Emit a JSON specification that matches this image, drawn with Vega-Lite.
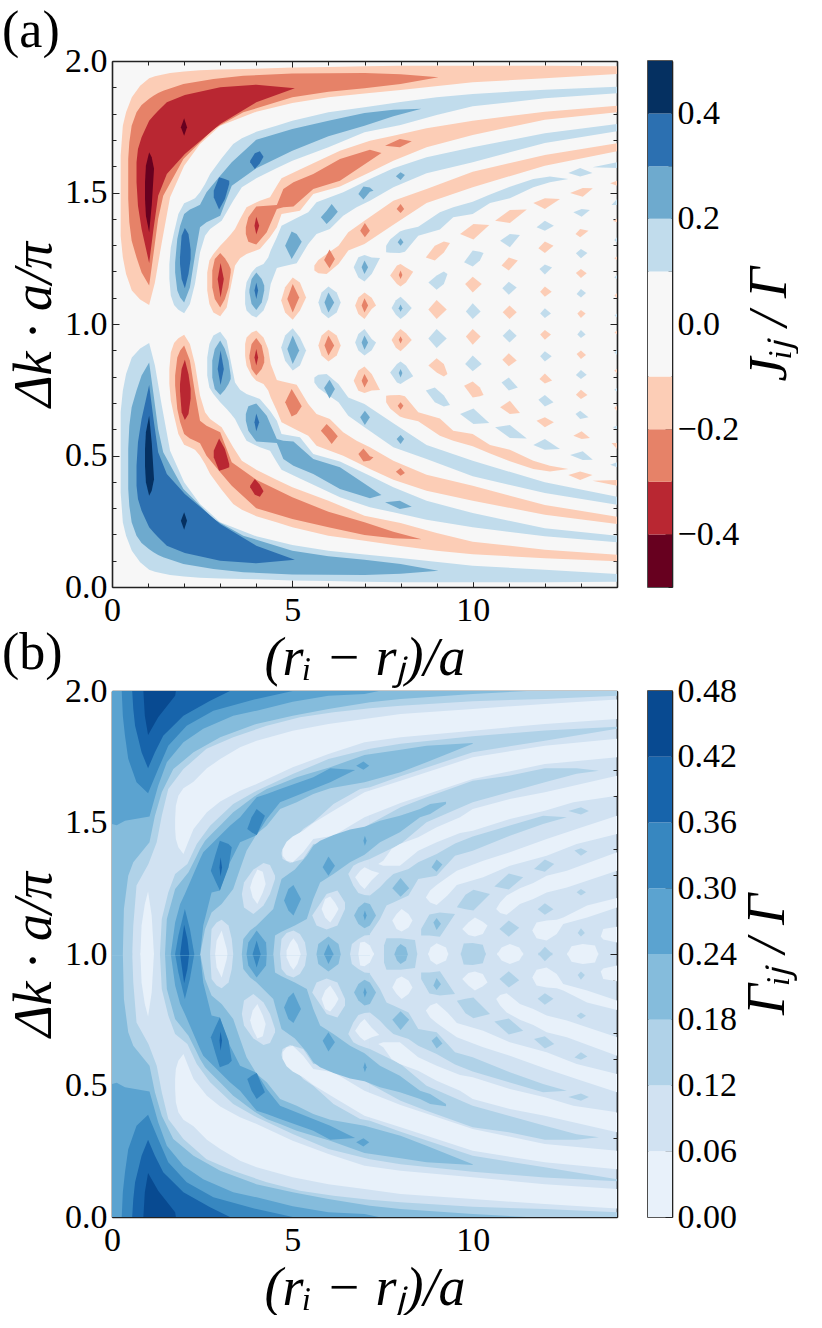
{"$schema":"https://vega.github.io/schema/vega-lite/v6.json","background":"white","padding":{"left":2,"top":5,"right":0,"bottom":0},"bounds":"flush","columns":2,"spacing":{"row":104,"column":31},"resolve":{"scale":{"color":"independent"}},"config":{"view":{"stroke":null},"font":"Liberation Serif","axis":{"labelFont":"Liberation Serif","titleFont":"Liberation Serif","labelFontSize":34,"titleFontWeight":"normal","titleFontSize":54,"titleColor":"#000","labelColor":"#000","domainColor":"#222","domainWidth":1.6,"tickColor":"#222","tickWidth":1,"grid":false,"labelOverlap":false,"labelBound":false,"labelFlush":false,"zindex":1}},
"datasets":{
"ca":[{"lo":-0.5,"hi":-0.4,"lv":"n4"},{"lo":-0.4,"hi":-0.3,"lv":"n3"},{"lo":-0.3,"hi":-0.2,"lv":"n2"},{"lo":-0.2,"hi":-0.1,"lv":"n1"},{"lo":-0.1,"hi":0.1,"lv":"z"},{"lo":0.1,"hi":0.2,"lv":"p1"},{"lo":0.2,"hi":0.3,"lv":"p2"},{"lo":0.3,"hi":0.4,"lv":"p3"},{"lo":0.4,"hi":0.5,"lv":"p4"}],
"cb":[{"lo":0,"hi":0.06,"lv":"L0"},{"lo":0.06,"hi":0.12,"lv":"L1"},{"lo":0.12,"hi":0.18,"lv":"L2"},{"lo":0.18,"hi":0.24,"lv":"L3"},{"lo":0.24,"hi":0.3,"lv":"L4"},{"lo":0.3,"hi":0.36,"lv":"L5"},{"lo":0.36,"hi":0.42,"lv":"L6"},{"lo":0.42,"hi":0.48,"lv":"L7"}],
"a":[
{"id":1,"lv":"p1","r":0.24,"lo":0.36,"hi":0.664},{"id":1,"lv":"p1","r":0.3,"lo":0.246,"hi":0.746},{"id":1,"lv":"p1","r":0.39,"lo":0.195,"hi":0.81},{"id":1,"lv":"p1","r":0.55,"lo":0.138,"hi":0.873},{"id":1,"lv":"p1","r":0.78,"lo":0.094,"hi":0.907},{"id":1,"lv":"p1","r":1.03,"lo":0.066,"hi":0.928},{"id":1,"lv":"p1","r":1.19,"lo":0.058,"hi":0.842},{"id":1,"lv":"p1","r":1.38,"lo":0.052,"hi":0.69},{"id":1,"lv":"p1","r":1.61,"lo":0.046,"hi":0.518},{"id":1,"lv":"p1","r":2,"lo":0.04,"hi":0.398},{"id":1,"lv":"p1","r":2.44,"lo":0.035,"hi":0.316},{"id":1,"lv":"p1","r":3,"lo":0.032,"hi":0.246},{"id":1,"lv":"p1","r":4,"lo":0.029,"hi":0.193},{"id":1,"lv":"p1","r":5,"lo":0.025,"hi":0.16},{"id":1,"lv":"p1","r":6,"lo":0.023,"hi":0.138},{"id":1,"lv":"p1","r":7,"lo":0.02,"hi":0.124},{"id":1,"lv":"p1","r":8,"lo":0.018,"hi":0.11},{"id":1,"lv":"p1","r":10,"lo":0.018,"hi":0.081},{"id":1,"lv":"p1","r":12,"lo":0.018,"hi":0.066},{"id":1,"lv":"p1","r":14,"lo":0.02,"hi":0.049},
{"id":2,"lv":"p2","r":0.45,"lo":0.373,"hi":0.525},{"id":2,"lv":"p2","r":0.48,"lo":0.309,"hi":0.613},{"id":2,"lv":"p2","r":0.545,"lo":0.246,"hi":0.683},{"id":2,"lv":"p2","r":0.68,"lo":0.195,"hi":0.747},{"id":2,"lv":"p2","r":0.82,"lo":0.167,"hi":0.804},{"id":2,"lv":"p2","r":1.03,"lo":0.144,"hi":0.854},{"id":2,"lv":"p2","r":1.15,"lo":0.132,"hi":0.734},{"id":2,"lv":"p2","r":1.28,"lo":0.122,"hi":0.6},{"id":2,"lv":"p2","r":1.42,"lo":0.113,"hi":0.512},{"id":2,"lv":"p2","r":1.98,"lo":0.087,"hi":0.373},{"id":2,"lv":"p2","r":2.81,"lo":0.068,"hi":0.259},{"id":2,"lv":"p2","r":3.64,"lo":0.056,"hi":0.195},{"id":2,"lv":"p2","r":5,"lo":0.048,"hi":0.138},{"id":2,"lv":"p2","r":6,"lo":0.047,"hi":0.117},{"id":2,"lv":"p2","r":7,"lo":0.046,"hi":0.104},{"id":2,"lv":"p2","r":8,"lo":0.05,"hi":0.087},{"id":2,"lv":"p2","r":9.05,"lo":0.062,"hi":0.062},
{"id":3,"lv":"p3","r":0.68,"lo":0.385,"hi":0.461},{"id":3,"lv":"p3","r":0.72,"lo":0.335,"hi":0.55},{"id":3,"lv":"p3","r":0.82,"lo":0.29,"hi":0.639},{"id":3,"lv":"p3","r":1.03,"lo":0.227,"hi":0.768},{"id":3,"lv":"p3","r":1.15,"lo":0.208,"hi":0.639},{"id":3,"lv":"p3","r":1.28,"lo":0.189,"hi":0.512},{"id":3,"lv":"p3","r":1.52,"lo":0.157,"hi":0.43},{"id":3,"lv":"p3","r":2.02,"lo":0.129,"hi":0.354},{"id":3,"lv":"p3","r":3,"lo":0.1,"hi":0.24},{"id":3,"lv":"p3","r":4,"lo":0.09,"hi":0.157},{"id":3,"lv":"p3","r":5.07,"lo":0.104,"hi":0.104},
{"id":4,"lv":"p4","r":0.915,"lo":0.461,"hi":0.525},{"id":4,"lv":"p4","r":0.94,"lo":0.398,"hi":0.588},{"id":4,"lv":"p4","r":1.03,"lo":0.347,"hi":0.651},{"id":4,"lv":"p4","r":1.1,"lo":0.366,"hi":0.55},{"id":4,"lv":"p4","r":1.165,"lo":0.41,"hi":0.41},
{"id":5,"lv":"p4","r":1.91,"lo":0.252,"hi":0.252},{"id":5,"lv":"p4","r":2,"lo":0.218,"hi":0.284},{"id":5,"lv":"p4","r":2.08,"lo":0.252,"hi":0.252},
{"id":6,"lv":"n1","r":1.59,"lo":0.772,"hi":0.829},{"id":6,"lv":"n1","r":1.63,"lo":0.709,"hi":0.892},{"id":6,"lv":"n1","r":1.72,"lo":0.651,"hi":0.928},{"id":6,"lv":"n1","r":1.84,"lo":0.582,"hi":0.946},{"id":6,"lv":"n1","r":2,"lo":0.541,"hi":0.959},{"id":6,"lv":"n1","r":2.16,"lo":0.531,"hi":0.924},{"id":6,"lv":"n1","r":2.3,"lo":0.522,"hi":0.848},{"id":6,"lv":"n1","r":2.44,"lo":0.499,"hi":0.728},{"id":6,"lv":"n1","r":2.58,"lo":0.468,"hi":0.664},{"id":6,"lv":"n1","r":2.72,"lo":0.43,"hi":0.639},{"id":6,"lv":"n1","r":3.04,"lo":0.37,"hi":0.607},{"id":6,"lv":"n1","r":3.36,"lo":0.316,"hi":0.531},{"id":6,"lv":"n1","r":3.6,"lo":0.294,"hi":0.48},{"id":6,"lv":"n1","r":4,"lo":0.269,"hi":0.446},{"id":6,"lv":"n1","r":4.56,"lo":0.246,"hi":0.408},{"id":6,"lv":"n1","r":5,"lo":0.227,"hi":0.379},{"id":6,"lv":"n1","r":6,"lo":0.195,"hi":0.328},{"id":6,"lv":"n1","r":7,"lo":0.176,"hi":0.271},{"id":6,"lv":"n1","r":8,"lo":0.156,"hi":0.243},{"id":6,"lv":"n1","r":9,"lo":0.138,"hi":0.205},{"id":6,"lv":"n1","r":10,"lo":0.125,"hi":0.172},{"id":6,"lv":"n1","r":12,"lo":0.109,"hi":0.142},{"id":6,"lv":"n1","r":14,"lo":0.098,"hi":0.123},
{"id":7,"lv":"n2","r":1.75,"lo":0.766,"hi":0.804},{"id":7,"lv":"n2","r":1.81,"lo":0.677,"hi":0.873},{"id":7,"lv":"n2","r":1.89,"lo":0.626,"hi":0.899},{"id":7,"lv":"n2","r":2,"lo":0.582,"hi":0.918},{"id":7,"lv":"n2","r":2.16,"lo":0.565,"hi":0.861},{"id":7,"lv":"n2","r":2.3,"lo":0.556,"hi":0.74},{"id":7,"lv":"n2","r":2.44,"lo":0.547,"hi":0.632},{"id":7,"lv":"n2","r":2.62,"lo":0.499,"hi":0.613},{"id":7,"lv":"n2","r":3,"lo":0.436,"hi":0.588},{"id":7,"lv":"n2","r":3.32,"lo":0.385,"hi":0.474},{"id":7,"lv":"n2","r":4,"lo":0.299,"hi":0.408},{"id":7,"lv":"n2","r":5,"lo":0.259,"hi":0.341},{"id":7,"lv":"n2","r":6,"lo":0.227,"hi":0.286},{"id":7,"lv":"n2","r":7,"lo":0.198,"hi":0.246},{"id":7,"lv":"n2","r":7.8,"lo":0.185,"hi":0.21},{"id":7,"lv":"n2","r":8.58,"lo":0.182,"hi":0.182},
{"id":8,"lv":"n3","r":1.885,"lo":0.746,"hi":0.772},{"id":8,"lv":"n3","r":1.93,"lo":0.664,"hi":0.829},{"id":8,"lv":"n3","r":2.02,"lo":0.635,"hi":0.864},{"id":8,"lv":"n3","r":2.12,"lo":0.658,"hi":0.81},{"id":8,"lv":"n3","r":2.18,"lo":0.717,"hi":0.753},
{"id":9,"lv":"n3","r":2.82,"lo":0.493,"hi":0.518},{"id":9,"lv":"n3","r":2.97,"lo":0.442,"hi":0.565},{"id":9,"lv":"n3","r":3.13,"lo":0.449,"hi":0.525},{"id":9,"lv":"n3","r":3.25,"lo":0.455,"hi":0.468},
{"id":10,"lv":"n3","r":3.83,"lo":0.379,"hi":0.385},{"id":10,"lv":"n3","r":3.96,"lo":0.351,"hi":0.411},{"id":10,"lv":"n3","r":4.1,"lo":0.343,"hi":0.389},{"id":10,"lv":"n3","r":4.2,"lo":0.364,"hi":0.364},
{"id":11,"lv":"p1","r":2.64,"lo":0.804,"hi":0.873},{"id":11,"lv":"p1","r":2.7,"lo":0.759,"hi":0.924},{"id":11,"lv":"p1","r":2.81,"lo":0.734,"hi":0.956},{"id":11,"lv":"p1","r":3,"lo":0.702,"hi":0.971},{"id":11,"lv":"p1","r":3.18,"lo":0.677,"hi":0.937},{"id":11,"lv":"p1","r":3.3,"lo":0.658,"hi":0.854},{"id":11,"lv":"p1","r":3.41,"lo":0.639,"hi":0.778},{"id":11,"lv":"p1","r":3.55,"lo":0.601,"hi":0.75},{"id":11,"lv":"p1","r":3.73,"lo":0.556,"hi":0.734},{"id":11,"lv":"p1","r":4.1,"lo":0.531,"hi":0.715},{"id":11,"lv":"p1","r":4.38,"lo":0.518,"hi":0.67},{"id":11,"lv":"p1","r":4.57,"lo":0.474,"hi":0.632},{"id":11,"lv":"p1","r":4.7,"lo":0.446,"hi":0.582},{"id":11,"lv":"p1","r":5.21,"lo":0.413,"hi":0.569},{"id":11,"lv":"p1","r":5.58,"lo":0.389,"hi":0.506},{"id":11,"lv":"p1","r":6.32,"lo":0.341,"hi":0.477},{"id":11,"lv":"p1","r":7.15,"lo":0.303,"hi":0.423},{"id":11,"lv":"p1","r":7.8,"lo":0.284,"hi":0.379},{"id":11,"lv":"p1","r":8.72,"lo":0.256,"hi":0.328},{"id":11,"lv":"p1","r":10,"lo":0.227,"hi":0.281},{"id":11,"lv":"p1","r":12,"lo":0.193,"hi":0.223},{"id":11,"lv":"p1","r":14,"lo":0.17,"hi":0.195},
{"id":12,"lv":"p2","r":2.78,"lo":0.797,"hi":0.861},{"id":12,"lv":"p2","r":2.85,"lo":0.753,"hi":0.905},{"id":12,"lv":"p2","r":3,"lo":0.73,"hi":0.937},{"id":12,"lv":"p2","r":3.13,"lo":0.75,"hi":0.905},{"id":12,"lv":"p2","r":3.23,"lo":0.772,"hi":0.861},{"id":12,"lv":"p2","r":3.29,"lo":0.791,"hi":0.804},
{"id":13,"lv":"p3","r":2.93,"lo":0.829,"hi":0.829},{"id":13,"lv":"p3","r":3.01,"lo":0.768,"hi":0.899},{"id":13,"lv":"p3","r":3.1,"lo":0.829,"hi":0.829},
{"id":14,"lv":"p2","r":3.71,"lo":0.632,"hi":0.658},{"id":14,"lv":"p2","r":3.78,"lo":0.594,"hi":0.687},{"id":14,"lv":"p2","r":4,"lo":0.553,"hi":0.698},{"id":14,"lv":"p2","r":4.29,"lo":0.55,"hi":0.651},{"id":14,"lv":"p2","r":4.57,"lo":0.548,"hi":0.563},{"id":14,"lv":"p2","r":4.75,"lo":0.487,"hi":0.556},{"id":14,"lv":"p2","r":5.03,"lo":0.461,"hi":0.553},{"id":14,"lv":"p2","r":5.58,"lo":0.43,"hi":0.487},{"id":14,"lv":"p2","r":6.32,"lo":0.373,"hi":0.455},{"id":14,"lv":"p2","r":7.15,"lo":0.337,"hi":0.379},{"id":14,"lv":"p2","r":7.47,"lo":0.35,"hi":0.35},
{"id":15,"lv":"p2","r":7.57,"lo":0.322,"hi":0.322},{"id":15,"lv":"p2","r":7.98,"lo":0.297,"hi":0.328},{"id":15,"lv":"p2","r":8.31,"lo":0.305,"hi":0.305},
{"id":16,"lv":"p3","r":3.95,"lo":0.626,"hi":0.626},{"id":16,"lv":"p3","r":4,"lo":0.592,"hi":0.66},{"id":16,"lv":"p3","r":4.08,"lo":0.626,"hi":0.626},
{"id":17,"lv":"n1","r":3.69,"lo":0.879,"hi":0.924},{"id":17,"lv":"n1","r":3.73,"lo":0.841,"hi":0.949},{"id":17,"lv":"n1","r":3.87,"lo":0.804,"hi":0.968},{"id":17,"lv":"n1","r":4,"lo":0.784,"hi":0.975},{"id":17,"lv":"n1","r":4.2,"lo":0.772,"hi":0.949},{"id":17,"lv":"n1","r":4.33,"lo":0.747,"hi":0.905},{"id":17,"lv":"n1","r":4.4,"lo":0.721,"hi":0.848},{"id":17,"lv":"n1","r":4.57,"lo":0.67,"hi":0.787},{"id":17,"lv":"n1","r":4.7,"lo":0.626,"hi":0.782},{"id":17,"lv":"n1","r":5.12,"lo":0.597,"hi":0.769},{"id":17,"lv":"n1","r":5.44,"lo":0.575,"hi":0.696},{"id":17,"lv":"n1","r":5.67,"lo":0.537,"hi":0.658},{"id":17,"lv":"n1","r":6.04,"lo":0.518,"hi":0.639},{"id":17,"lv":"n1","r":6.41,"lo":0.499,"hi":0.588},{"id":17,"lv":"n1","r":6.78,"lo":0.474,"hi":0.556},{"id":17,"lv":"n1","r":7.15,"lo":0.449,"hi":0.531},{"id":17,"lv":"n1","r":7.8,"lo":0.408,"hi":0.48},{"id":17,"lv":"n1","r":8.72,"lo":0.366,"hi":0.427},{"id":17,"lv":"n1","r":10,"lo":0.328,"hi":0.385},{"id":17,"lv":"n1","r":12,"lo":0.275,"hi":0.312},{"id":17,"lv":"n1","r":14,"lo":0.24,"hi":0.267},
{"id":18,"lv":"n2","r":3.81,"lo":0.87,"hi":0.88},{"id":18,"lv":"n2","r":3.87,"lo":0.829,"hi":0.924},{"id":18,"lv":"n2","r":4,"lo":0.804,"hi":0.947},{"id":18,"lv":"n2","r":4.15,"lo":0.829,"hi":0.918},{"id":18,"lv":"n2","r":4.22,"lo":0.854,"hi":0.873},
{"id":19,"lv":"n3","r":3.95,"lo":0.873,"hi":0.873},{"id":19,"lv":"n3","r":4,"lo":0.842,"hi":0.905},{"id":19,"lv":"n3","r":4.05,"lo":0.873,"hi":0.873},
{"id":20,"lv":"n2","r":4.8,"lo":0.702,"hi":0.702},{"id":20,"lv":"n2","r":4.98,"lo":0.648,"hi":0.753},{"id":20,"lv":"n2","r":5.12,"lo":0.658,"hi":0.721},{"id":20,"lv":"n2","r":5.26,"lo":0.687,"hi":0.687},
{"id":21,"lv":"n2","r":5.79,"lo":0.594,"hi":0.594},{"id":21,"lv":"n2","r":5.95,"lo":0.569,"hi":0.62},{"id":21,"lv":"n2","r":6.09,"lo":0.544,"hi":0.601},{"id":21,"lv":"n2","r":6.26,"lo":0.573,"hi":0.573},
{"id":22,"lv":"n2","r":6.83,"lo":0.506,"hi":0.506},{"id":22,"lv":"n2","r":6.97,"lo":0.477,"hi":0.527},{"id":22,"lv":"n2","r":7.15,"lo":0.481,"hi":0.497},{"id":22,"lv":"n2","r":7.25,"lo":0.493,"hi":0.493},
{"id":23,"lv":"n2","r":7.87,"lo":0.438,"hi":0.438},{"id":23,"lv":"n2","r":8,"lo":0.423,"hi":0.452},{"id":23,"lv":"n2","r":8.12,"lo":0.433,"hi":0.433},
{"id":24,"lv":"p1","r":5.61,"lo":0.778,"hi":0.797},{"id":24,"lv":"p1","r":5.72,"lo":0.757,"hi":0.807},{"id":24,"lv":"p1","r":5.95,"lo":0.734,"hi":0.81},{"id":24,"lv":"p1","r":6.28,"lo":0.702,"hi":0.772},{"id":24,"lv":"p1","r":6.55,"lo":0.651,"hi":0.721},{"id":24,"lv":"p1","r":7,"lo":0.607,"hi":0.696},{"id":24,"lv":"p1","r":7.8,"lo":0.531,"hi":0.623},{"id":24,"lv":"p1","r":8.72,"lo":0.487,"hi":0.54},{"id":24,"lv":"p1","r":10,"lo":0.421,"hi":0.48},{"id":24,"lv":"p1","r":12,"lo":0.357,"hi":0.398},{"id":24,"lv":"p1","r":14,"lo":0.313,"hi":0.343},
{"id":25,"lv":"p2","r":5.88,"lo":0.757,"hi":0.757},{"id":25,"lv":"p2","r":6.03,"lo":0.717,"hi":0.788},{"id":25,"lv":"p2","r":6.18,"lo":0.753,"hi":0.753},
{"id":26,"lv":"p2","r":6.88,"lo":0.645,"hi":0.645},{"id":26,"lv":"p2","r":7.01,"lo":0.616,"hi":0.67},{"id":26,"lv":"p2","r":7.15,"lo":0.645,"hi":0.645},
{"id":27,"lv":"p2","r":7.89,"lo":0.563,"hi":0.563},{"id":27,"lv":"p2","r":8,"lo":0.544,"hi":0.578},{"id":27,"lv":"p2","r":8.1,"lo":0.563,"hi":0.563},
{"id":28,"lv":"p1","r":4.69,"lo":0.911,"hi":0.911},{"id":28,"lv":"p1","r":4.8,"lo":0.86,"hi":0.956},{"id":28,"lv":"p1","r":5.01,"lo":0.823,"hi":0.984},{"id":28,"lv":"p1","r":5.21,"lo":0.842,"hi":0.949},{"id":28,"lv":"p1","r":5.38,"lo":0.899,"hi":0.899},
{"id":29,"lv":"p2","r":4.86,"lo":0.905,"hi":0.905},{"id":29,"lv":"p2","r":5.01,"lo":0.848,"hi":0.956},{"id":29,"lv":"p2","r":5.19,"lo":0.899,"hi":0.899},
{"id":30,"lv":"n1","r":5.72,"lo":0.918,"hi":0.918},{"id":30,"lv":"n1","r":5.81,"lo":0.88,"hi":0.956},{"id":30,"lv":"n1","r":6,"lo":0.857,"hi":0.978},{"id":30,"lv":"n1","r":6.23,"lo":0.88,"hi":0.956},{"id":30,"lv":"n1","r":6.34,"lo":0.918,"hi":0.918},
{"id":31,"lv":"n2","r":5.89,"lo":0.918,"hi":0.918},{"id":31,"lv":"n2","r":6,"lo":0.88,"hi":0.956},{"id":31,"lv":"n2","r":6.16,"lo":0.918,"hi":0.918},
{"id":32,"lv":"p1","r":6.74,"lo":0.93,"hi":0.93},{"id":32,"lv":"p1","r":6.83,"lo":0.899,"hi":0.962},{"id":32,"lv":"p1","r":7,"lo":0.88,"hi":0.981},{"id":32,"lv":"p1","r":7.2,"lo":0.9,"hi":0.943},{"id":32,"lv":"p1","r":7.32,"lo":0.93,"hi":0.93},
{"id":33,"lv":"p2","r":6.92,"lo":0.93,"hi":0.93},{"id":33,"lv":"p2","r":7,"lo":0.902,"hi":0.956},{"id":33,"lv":"p2","r":7.1,"lo":0.93,"hi":0.93},
{"id":34,"lv":"n1","r":6.7,"lo":0.784,"hi":0.784},{"id":34,"lv":"n1","r":6.83,"lo":0.746,"hi":0.823},{"id":34,"lv":"n1","r":7,"lo":0.738,"hi":0.838},{"id":34,"lv":"n1","r":7.2,"lo":0.747,"hi":0.81},{"id":34,"lv":"n1","r":7.43,"lo":0.749,"hi":0.749},
{"id":35,"lv":"n2","r":6.92,"lo":0.784,"hi":0.784},{"id":35,"lv":"n2","r":7,"lo":0.759,"hi":0.81},{"id":35,"lv":"n2","r":7.1,"lo":0.784,"hi":0.784},
{"id":36,"lv":"n1","r":7.75,"lo":0.939,"hi":0.939},{"id":36,"lv":"n1","r":7.87,"lo":0.91,"hi":0.965},{"id":36,"lv":"n1","r":8,"lo":0.896,"hi":0.981},{"id":36,"lv":"n1","r":8.15,"lo":0.915,"hi":0.965},{"id":36,"lv":"n1","r":8.31,"lo":0.939,"hi":0.939},
{"id":37,"lv":"n2","r":7.95,"lo":0.94,"hi":0.94},{"id":37,"lv":"n2","r":8,"lo":0.926,"hi":0.953},{"id":37,"lv":"n2","r":8.05,"lo":0.94,"hi":0.94},
{"id":38,"lv":"p1","r":8.77,"lo":0.945,"hi":0.945},{"id":38,"lv":"p1","r":9,"lo":0.909,"hi":0.981},{"id":38,"lv":"p1","r":9.28,"lo":0.945,"hi":0.945},
{"id":39,"lv":"n1","r":9.81,"lo":0.952,"hi":0.952},{"id":39,"lv":"n1","r":10,"lo":0.921,"hi":0.981},{"id":39,"lv":"n1","r":10.22,"lo":0.952,"hi":0.952},
{"id":40,"lv":"p1","r":10.83,"lo":0.955,"hi":0.955},{"id":40,"lv":"p1","r":11.02,"lo":0.93,"hi":0.981},{"id":40,"lv":"p1","r":11.22,"lo":0.955,"hi":0.955},
{"id":41,"lv":"n1","r":11.87,"lo":0.96,"hi":0.96},{"id":41,"lv":"n1","r":12,"lo":0.94,"hi":0.977},{"id":41,"lv":"n1","r":12.17,"lo":0.96,"hi":0.96},
{"id":42,"lv":"p1","r":12.9,"lo":0.96,"hi":0.96},{"id":42,"lv":"p1","r":13,"lo":0.947,"hi":0.977},{"id":42,"lv":"p1","r":13.13,"lo":0.96,"hi":0.96},
{"id":43,"lv":"n1","r":13.93,"lo":0.968,"hi":0.968},{"id":43,"lv":"n1","r":14,"lo":0.96,"hi":0.975},
{"id":44,"lv":"p1","r":7.71,"lo":0.816,"hi":0.816},{"id":44,"lv":"p1","r":7.9,"lo":0.778,"hi":0.848},{"id":44,"lv":"p1","r":8,"lo":0.772,"hi":0.857},{"id":44,"lv":"p1","r":8.15,"lo":0.785,"hi":0.842},{"id":44,"lv":"p1","r":8.35,"lo":0.801,"hi":0.801},
{"id":45,"lv":"p2","r":7.95,"lo":0.814,"hi":0.814},{"id":45,"lv":"p2","r":8,"lo":0.797,"hi":0.829},{"id":45,"lv":"p2","r":8.05,"lo":0.814,"hi":0.814},
{"id":46,"lv":"n1","r":8.77,"lo":0.842,"hi":0.842},{"id":46,"lv":"n1","r":9,"lo":0.816,"hi":0.87},{"id":46,"lv":"n1","r":9.2,"lo":0.8,"hi":0.848},{"id":46,"lv":"n1","r":9.3,"lo":0.81,"hi":0.81},
{"id":47,"lv":"p1","r":9.79,"lo":0.848,"hi":0.848},{"id":47,"lv":"p1","r":10,"lo":0.82,"hi":0.88},{"id":47,"lv":"p1","r":10.25,"lo":0.848,"hi":0.848},
{"id":48,"lv":"n1","r":10.82,"lo":0.864,"hi":0.864},{"id":48,"lv":"n1","r":11,"lo":0.839,"hi":0.889},{"id":48,"lv":"n1","r":11.22,"lo":0.861,"hi":0.861},
{"id":49,"lv":"p1","r":11.87,"lo":0.877,"hi":0.877},{"id":49,"lv":"p1","r":12,"lo":0.857,"hi":0.896},{"id":49,"lv":"p1","r":12.19,"lo":0.877,"hi":0.877},
{"id":50,"lv":"n1","r":12.88,"lo":0.886,"hi":0.886},{"id":50,"lv":"n1","r":13,"lo":0.867,"hi":0.899},{"id":50,"lv":"n1","r":13.14,"lo":0.882,"hi":0.882},
{"id":51,"lv":"p1","r":13.93,"lo":0.892,"hi":0.892},{"id":51,"lv":"p1","r":14,"lo":0.882,"hi":0.902},
{"id":52,"lv":"p1","r":8.7,"lo":0.747,"hi":0.747},{"id":52,"lv":"p1","r":8.95,"lo":0.702,"hi":0.759},{"id":52,"lv":"p1","r":9.2,"lo":0.686,"hi":0.728},{"id":52,"lv":"p1","r":9.37,"lo":0.692,"hi":0.692},
{"id":53,"lv":"n1","r":9.76,"lo":0.765,"hi":0.765},{"id":53,"lv":"n1","r":10,"lo":0.721,"hi":0.781},{"id":53,"lv":"n1","r":10.2,"lo":0.725,"hi":0.759},{"id":53,"lv":"n1","r":10.3,"lo":0.73,"hi":0.73},
{"id":54,"lv":"p1","r":10.8,"lo":0.778,"hi":0.778},{"id":54,"lv":"p1","r":11,"lo":0.747,"hi":0.797},{"id":54,"lv":"p1","r":11.25,"lo":0.759,"hi":0.759},
{"id":55,"lv":"n1","r":11.85,"lo":0.791,"hi":0.791},{"id":55,"lv":"n1","r":12,"lo":0.774,"hi":0.812},{"id":55,"lv":"n1","r":12.2,"lo":0.785,"hi":0.785},
{"id":56,"lv":"p1","r":12.86,"lo":0.806,"hi":0.806},{"id":56,"lv":"p1","r":13,"lo":0.791,"hi":0.825},{"id":56,"lv":"p1","r":13.16,"lo":0.807,"hi":0.807},
{"id":57,"lv":"n1","r":7.6,"lo":0.702,"hi":0.727},{"id":57,"lv":"n1","r":7.71,"lo":0.679,"hi":0.729},{"id":57,"lv":"n1","r":7.98,"lo":0.648,"hi":0.73},{"id":57,"lv":"n1","r":8.12,"lo":0.642,"hi":0.725},{"id":57,"lv":"n1","r":8.49,"lo":0.63,"hi":0.664},{"id":57,"lv":"n1","r":9.09,"lo":0.575,"hi":0.641},{"id":57,"lv":"n1","r":9.46,"lo":0.556,"hi":0.594},{"id":57,"lv":"n1","r":10,"lo":0.535,"hi":0.582},{"id":57,"lv":"n1","r":10.48,"lo":0.508,"hi":0.54},{"id":57,"lv":"n1","r":11.03,"lo":0.478,"hi":0.522},{"id":57,"lv":"n1","r":11.68,"lo":0.449,"hi":0.48},{"id":57,"lv":"n1","r":12.14,"lo":0.439,"hi":0.461},{"id":57,"lv":"n1","r":12.65,"lo":0.449,"hi":0.449},
{"id":58,"lv":"n2","r":7.92,"lo":0.689,"hi":0.689},{"id":58,"lv":"n2","r":8,"lo":0.674,"hi":0.702},{"id":58,"lv":"n2","r":8.08,"lo":0.689,"hi":0.689},
{"id":59,"lv":"p1","r":9.65,"lo":0.658,"hi":0.658},{"id":59,"lv":"p1","r":10.02,"lo":0.62,"hi":0.679},{"id":59,"lv":"p1","r":10.46,"lo":0.624,"hi":0.624},
{"id":60,"lv":"p1","r":10.62,"lo":0.607,"hi":0.607},{"id":60,"lv":"p1","r":11.03,"lo":0.567,"hi":0.616},{"id":60,"lv":"p1","r":11.5,"lo":0.565,"hi":0.565},
{"id":61,"lv":"n1","r":10.76,"lo":0.683,"hi":0.683},{"id":61,"lv":"n1","r":11.03,"lo":0.658,"hi":0.708},{"id":61,"lv":"n1","r":11.31,"lo":0.662,"hi":0.662},
{"id":62,"lv":"p1","r":11.82,"lo":0.712,"hi":0.712},{"id":62,"lv":"p1","r":12,"lo":0.686,"hi":0.73},{"id":62,"lv":"p1","r":12.24,"lo":0.702,"hi":0.702},
{"id":63,"lv":"n1","r":11.77,"lo":0.632,"hi":0.632},{"id":63,"lv":"n1","r":12,"lo":0.607,"hi":0.645},{"id":63,"lv":"n1","r":12.25,"lo":0.626,"hi":0.626},
{"id":64,"lv":"p1","r":11.68,"lo":0.54,"hi":0.54},{"id":64,"lv":"p1","r":12,"lo":0.522,"hi":0.563},{"id":64,"lv":"p1","r":12.42,"lo":0.525,"hi":0.525},
{"id":65,"lv":"n1","r":12.86,"lo":0.731,"hi":0.731},{"id":65,"lv":"n1","r":13,"lo":0.715,"hi":0.75},{"id":65,"lv":"n1","r":13.18,"lo":0.73,"hi":0.73},
{"id":66,"lv":"p1","r":12.85,"lo":0.658,"hi":0.658},{"id":66,"lv":"p1","r":12.98,"lo":0.639,"hi":0.67},{"id":66,"lv":"p1","r":13.21,"lo":0.645,"hi":0.645},
{"id":67,"lv":"n1","r":12.79,"lo":0.575,"hi":0.575},{"id":67,"lv":"n1","r":13.02,"lo":0.563,"hi":0.592},{"id":67,"lv":"n1","r":13.25,"lo":0.567,"hi":0.567},
{"id":68,"lv":"p1","r":12.7,"lo":0.502,"hi":0.502},{"id":68,"lv":"p1","r":13.05,"lo":0.483,"hi":0.516},{"id":68,"lv":"p1","r":13.33,"lo":0.484,"hi":0.484},
{"id":69,"lv":"n1","r":12.65,"lo":0.426,"hi":0.426},{"id":69,"lv":"n1","r":12.98,"lo":0.407,"hi":0.439},{"id":69,"lv":"n1","r":13.32,"lo":0.426,"hi":0.426},
{"id":70,"lv":"n1","r":13.32,"lo":0.404,"hi":0.404},{"id":70,"lv":"n1","r":14,"lo":0.385,"hi":0.407},
{"id":71,"lv":"n1","r":13.85,"lo":0.548,"hi":0.548},{"id":71,"lv":"n1","r":14,"lo":0.525,"hi":0.548},
{"id":72,"lv":"p1","r":13.81,"lo":0.465,"hi":0.465},{"id":72,"lv":"p1","r":14,"lo":0.455,"hi":0.474},
{"id":73,"lv":"p1","r":13.88,"lo":0.607,"hi":0.607},{"id":73,"lv":"p1","r":14,"lo":0.6,"hi":0.613},
{"id":74,"lv":"n1","r":13.92,"lo":0.681,"hi":0.681},{"id":74,"lv":"n1","r":14,"lo":0.67,"hi":0.69},
{"id":75,"lv":"p1","r":13.92,"lo":0.75,"hi":0.75},{"id":75,"lv":"p1","r":14,"lo":0.743,"hi":0.757},
{"id":76,"lv":"n1","r":13.92,"lo":0.823,"hi":0.823},{"id":76,"lv":"n1","r":14,"lo":0.814,"hi":0.829}
],
"b":[
{"id":1,"lv":"L2","r":0,"lo":0,"hi":1.005},{"id":1,"lv":"L2","r":0.56,"lo":0,"hi":1.005},{"id":1,"lv":"L2","r":0.59,"lo":0,"hi":0.892},{"id":1,"lv":"L2","r":0.68,"lo":0,"hi":0.74},{"id":1,"lv":"L2","r":1.01,"lo":0,"hi":0.658},{"id":1,"lv":"L2","r":1.24,"lo":0,"hi":0.575},{"id":1,"lv":"L2","r":1.38,"lo":0,"hi":0.474},{"id":1,"lv":"L2","r":1.56,"lo":0,"hi":0.373},{"id":1,"lv":"L2","r":1.98,"lo":0,"hi":0.297},{"id":1,"lv":"L2","r":2.62,"lo":0,"hi":0.22},{"id":1,"lv":"L2","r":3.36,"lo":0,"hi":0.176},{"id":1,"lv":"L2","r":4.29,"lo":0,"hi":0.132},{"id":1,"lv":"L2","r":5.21,"lo":0,"hi":0.1},{"id":1,"lv":"L2","r":6.14,"lo":0,"hi":0.081},{"id":1,"lv":"L2","r":7.15,"lo":0,"hi":0.066},{"id":1,"lv":"L2","r":8,"lo":0,"hi":0.056},{"id":1,"lv":"L2","r":10,"lo":0,"hi":0.039},{"id":1,"lv":"L2","r":12,"lo":0,"hi":0.03},{"id":1,"lv":"L2","r":14,"lo":0,"hi":0.018},
{"id":2,"lv":"L2","r":1.33,"lo":1,"hi":1.005},{"id":2,"lv":"L2","r":1.38,"lo":0.867,"hi":1.005},{"id":2,"lv":"L2","r":1.56,"lo":0.766,"hi":1.005},{"id":2,"lv":"L2","r":1.75,"lo":0.696,"hi":1.005},{"id":2,"lv":"L2","r":2.09,"lo":0.658,"hi":1.005},{"id":2,"lv":"L2","r":2.35,"lo":0.582,"hi":1.005},{"id":2,"lv":"L2","r":2.72,"lo":0.512,"hi":1.005},{"id":2,"lv":"L2","r":3.36,"lo":0.43,"hi":1.005},{"id":2,"lv":"L2","r":4.01,"lo":0.379,"hi":1.005},{"id":2,"lv":"L2","r":5.01,"lo":0.316,"hi":1.005},{"id":2,"lv":"L2","r":6,"lo":0.259,"hi":1.005},{"id":2,"lv":"L2","r":7.15,"lo":0.22,"hi":1.005},
{"id":3,"lv":"L2","r":7.15,"lo":0.22,"hi":0.366},{"id":3,"lv":"L2","r":8,"lo":0.201,"hi":0.324},{"id":3,"lv":"L2","r":10,"lo":0.172,"hi":0.233},{"id":3,"lv":"L2","r":12,"lo":0.15,"hi":0.189},{"id":3,"lv":"L2","r":14,"lo":0.136,"hi":0.144},
{"id":4,"lv":"L2","r":7.15,"lo":0.506,"hi":0.639},{"id":4,"lv":"L2","r":8,"lo":0.442,"hi":0.582},{"id":4,"lv":"L2","r":8.72,"lo":0.404,"hi":0.499},{"id":4,"lv":"L2","r":10,"lo":0.341,"hi":0.423},{"id":4,"lv":"L2","r":11,"lo":0.322,"hi":0.385},{"id":4,"lv":"L2","r":12,"lo":0.294,"hi":0.347},{"id":4,"lv":"L2","r":12.88,"lo":0.294,"hi":0.315},{"id":4,"lv":"L2","r":13.5,"lo":0.303,"hi":0.303},
{"id":5,"lv":"L2","r":7.15,"lo":0.778,"hi":0.924},{"id":5,"lv":"L2","r":7.43,"lo":0.746,"hi":0.867},{"id":5,"lv":"L2","r":7.61,"lo":0.72,"hi":0.816},{"id":5,"lv":"L2","r":7.8,"lo":0.696,"hi":0.804},{"id":5,"lv":"L2","r":8.22,"lo":0.677,"hi":0.778},{"id":5,"lv":"L2","r":8.49,"lo":0.651,"hi":0.715},{"id":5,"lv":"L2","r":9,"lo":0.62,"hi":0.702},{"id":5,"lv":"L2","r":9.51,"lo":0.58,"hi":0.626},{"id":5,"lv":"L2","r":10,"lo":0.553,"hi":0.607},{"id":5,"lv":"L2","r":11.03,"lo":0.511,"hi":0.55},{"id":5,"lv":"L2","r":11.95,"lo":0.474,"hi":0.506},{"id":5,"lv":"L2","r":12.61,"lo":0.48,"hi":0.48},
{"id":6,"lv":"L2","r":7.54,"lo":0.968,"hi":1.005},{"id":6,"lv":"L2","r":7.61,"lo":0.94,"hi":1.005},{"id":6,"lv":"L2","r":8,"lo":0.94,"hi":1.005},{"id":6,"lv":"L2","r":8.4,"lo":0.947,"hi":1.005},{"id":6,"lv":"L2","r":8.46,"lo":1,"hi":1.005},
{"id":7,"lv":"L2","r":8.57,"lo":0.905,"hi":0.93},{"id":7,"lv":"L2","r":8.8,"lo":0.85,"hi":0.93},{"id":7,"lv":"L2","r":9.09,"lo":0.842,"hi":0.934},{"id":7,"lv":"L2","r":9.51,"lo":0.848,"hi":0.848},
{"id":8,"lv":"L2","r":9.56,"lo":0.822,"hi":0.822},{"id":8,"lv":"L2","r":9.8,"lo":0.775,"hi":0.83},{"id":8,"lv":"L2","r":10.02,"lo":0.756,"hi":0.835},{"id":8,"lv":"L2","r":10.48,"lo":0.772,"hi":0.772},
{"id":9,"lv":"L2","r":10.6,"lo":0.743,"hi":0.743},{"id":9,"lv":"L2","r":11,"lo":0.694,"hi":0.755},{"id":9,"lv":"L2","r":11.4,"lo":0.708,"hi":0.708},
{"id":10,"lv":"L2","r":11.7,"lo":0.677,"hi":0.677},{"id":10,"lv":"L2","r":12,"lo":0.641,"hi":0.687},{"id":10,"lv":"L2","r":12.26,"lo":0.658,"hi":0.658},
{"id":11,"lv":"L2","r":12.82,"lo":0.606,"hi":0.606},{"id":11,"lv":"L2","r":13,"lo":0.598,"hi":0.626},{"id":11,"lv":"L2","r":13.18,"lo":0.61,"hi":0.61},
{"id":12,"lv":"L2","r":9.67,"lo":1,"hi":1.005},{"id":12,"lv":"L2","r":9.75,"lo":0.96,"hi":1.005},{"id":12,"lv":"L2","r":10,"lo":0.958,"hi":1.005},{"id":12,"lv":"L2","r":10.28,"lo":0.965,"hi":1.005},{"id":12,"lv":"L2","r":10.36,"lo":1,"hi":1.005},
{"id":13,"lv":"L2","r":10.74,"lo":0.905,"hi":0.905},{"id":13,"lv":"L2","r":11,"lo":0.873,"hi":0.934},{"id":13,"lv":"L2","r":11.29,"lo":0.9,"hi":0.9},
{"id":14,"lv":"L2","r":11.8,"lo":0.83,"hi":0.83},{"id":14,"lv":"L2","r":12,"lo":0.807,"hi":0.851},{"id":14,"lv":"L2","r":12.24,"lo":0.83,"hi":0.83},
{"id":15,"lv":"L2","r":12.88,"lo":0.765,"hi":0.765},{"id":15,"lv":"L2","r":13,"lo":0.753,"hi":0.778},{"id":15,"lv":"L2","r":13.14,"lo":0.765,"hi":0.765},
{"id":16,"lv":"L2","r":11.82,"lo":1,"hi":1.005},{"id":16,"lv":"L2","r":12,"lo":0.972,"hi":1.005},{"id":16,"lv":"L2","r":12.21,"lo":1,"hi":1.005},
{"id":17,"lv":"L2","r":12.91,"lo":0.92,"hi":0.92},{"id":17,"lv":"L2","r":13,"lo":0.902,"hi":0.933},{"id":17,"lv":"L2","r":13.11,"lo":0.92,"hi":0.92},
{"id":18,"lv":"L2","r":12.65,"lo":0.456,"hi":0.456},{"id":18,"lv":"L2","r":13,"lo":0.442,"hi":0.47},{"id":18,"lv":"L2","r":13.22,"lo":0.456,"hi":0.456},
{"id":19,"lv":"L1","r":2.72,"lo":1,"hi":1.005},{"id":19,"lv":"L1","r":2.76,"lo":0.905,"hi":1.005},{"id":19,"lv":"L1","r":2.9,"lo":0.88,"hi":1.005},{"id":19,"lv":"L1","r":3.04,"lo":0.87,"hi":1.005},{"id":19,"lv":"L1","r":3.23,"lo":0.892,"hi":1.005},{"id":19,"lv":"L1","r":3.32,"lo":0.943,"hi":1.005},{"id":19,"lv":"L1","r":3.36,"lo":1,"hi":1.005},
{"id":20,"lv":"L1","r":4.66,"lo":1,"hi":1.005},{"id":20,"lv":"L1","r":4.7,"lo":0.943,"hi":1.005},{"id":20,"lv":"L1","r":4.84,"lo":0.92,"hi":1.005},{"id":20,"lv":"L1","r":5.03,"lo":0.911,"hi":1.005},{"id":20,"lv":"L1","r":5.21,"lo":0.924,"hi":1.005},{"id":20,"lv":"L1","r":5.35,"lo":0.956,"hi":1.005},{"id":20,"lv":"L1","r":5.4,"lo":1,"hi":1.005},
{"id":21,"lv":"L1","r":6.6,"lo":1,"hi":1.005},{"id":21,"lv":"L1","r":6.65,"lo":0.962,"hi":1.005},{"id":21,"lv":"L1","r":6.83,"lo":0.943,"hi":1.005},{"id":21,"lv":"L1","r":7,"lo":0.93,"hi":1.005},{"id":21,"lv":"L1","r":7.15,"lo":0.928,"hi":1.005},
{"id":22,"lv":"L1","r":3.6,"lo":0.772,"hi":0.772},{"id":22,"lv":"L1","r":3.66,"lo":0.728,"hi":0.823},{"id":22,"lv":"L1","r":3.92,"lo":0.679,"hi":0.848},{"id":22,"lv":"L1","r":4.2,"lo":0.654,"hi":0.816},{"id":22,"lv":"L1","r":4.38,"lo":0.662,"hi":0.772},{"id":22,"lv":"L1","r":4.52,"lo":0.702,"hi":0.715},
{"id":23,"lv":"L1","r":5.55,"lo":0.854,"hi":0.854},{"id":23,"lv":"L1","r":5.67,"lo":0.829,"hi":0.892},{"id":23,"lv":"L1","r":5.95,"lo":0.772,"hi":0.907},{"id":23,"lv":"L1","r":6.25,"lo":0.759,"hi":0.892},{"id":23,"lv":"L1","r":6.46,"lo":0.804,"hi":0.829},
{"id":24,"lv":"L1","r":6.55,"lo":0.696,"hi":0.696},{"id":24,"lv":"L1","r":6.69,"lo":0.664,"hi":0.74},{"id":24,"lv":"L1","r":6.83,"lo":0.654,"hi":0.768},{"id":24,"lv":"L1","r":7,"lo":0.645,"hi":0.776},{"id":24,"lv":"L1","r":7.15,"lo":0.639,"hi":0.778},
{"id":25,"lv":"L1","r":4.7,"lo":0.614,"hi":0.62},{"id":25,"lv":"L1","r":4.73,"lo":0.601,"hi":0.639},{"id":25,"lv":"L1","r":4.94,"lo":0.582,"hi":0.654},{"id":25,"lv":"L1","r":5.3,"lo":0.525,"hi":0.639},{"id":25,"lv":"L1","r":5.58,"lo":0.499,"hi":0.582},{"id":25,"lv":"L1","r":6.14,"lo":0.43,"hi":0.575},{"id":25,"lv":"L1","r":6.88,"lo":0.373,"hi":0.531},{"id":25,"lv":"L1","r":7.15,"lo":0.366,"hi":0.506},
{"id":26,"lv":"L0","r":0.79,"lo":0.994,"hi":1.005},{"id":26,"lv":"L0","r":0.82,"lo":0.892,"hi":1.005},{"id":26,"lv":"L0","r":0.91,"lo":0.81,"hi":1.005},{"id":26,"lv":"L0","r":1,"lo":0.762,"hi":1.005},{"id":26,"lv":"L0","r":1.1,"lo":0.854,"hi":1.005},{"id":26,"lv":"L0","r":1.16,"lo":0.994,"hi":1.005},
{"id":27,"lv":"L0","r":1.75,"lo":0.487,"hi":0.525},{"id":27,"lv":"L0","r":1.77,"lo":0.436,"hi":0.563},{"id":27,"lv":"L0","r":1.84,"lo":0.398,"hi":0.594},{"id":27,"lv":"L0","r":1.98,"lo":0.37,"hi":0.62},{"id":27,"lv":"L0","r":2.09,"lo":0.36,"hi":0.582},{"id":27,"lv":"L0","r":2.26,"lo":0.345,"hi":0.525},{"id":27,"lv":"L0","r":2.63,"lo":0.294,"hi":0.461},{"id":27,"lv":"L0","r":3,"lo":0.259,"hi":0.42},{"id":27,"lv":"L0","r":3.55,"lo":0.214,"hi":0.379},{"id":27,"lv":"L0","r":4.01,"lo":0.189,"hi":0.354},{"id":27,"lv":"L0","r":5.01,"lo":0.151,"hi":0.29},{"id":27,"lv":"L0","r":6,"lo":0.125,"hi":0.24},{"id":27,"lv":"L0","r":7,"lo":0.106,"hi":0.195},{"id":27,"lv":"L0","r":8,"lo":0.087,"hi":0.176},{"id":27,"lv":"L0","r":10,"lo":0.068,"hi":0.151},{"id":27,"lv":"L0","r":12,"lo":0.049,"hi":0.125},{"id":27,"lv":"L0","r":14,"lo":0.032,"hi":0.106},
{"id":28,"lv":"L0","r":4.73,"lo":0.601,"hi":0.626},{"id":28,"lv":"L0","r":4.84,"lo":0.573,"hi":0.645},{"id":28,"lv":"L0","r":5.01,"lo":0.553,"hi":0.651},{"id":28,"lv":"L0","r":5.3,"lo":0.531,"hi":0.613},{"id":28,"lv":"L0","r":5.58,"lo":0.502,"hi":0.563},{"id":28,"lv":"L0","r":6.14,"lo":0.455,"hi":0.55},{"id":28,"lv":"L0","r":7,"lo":0.385,"hi":0.48},{"id":28,"lv":"L0","r":8,"lo":0.341,"hi":0.426},{"id":28,"lv":"L0","r":10,"lo":0.252,"hi":0.335},{"id":28,"lv":"L0","r":12,"lo":0.208,"hi":0.278},{"id":28,"lv":"L0","r":14,"lo":0.182,"hi":0.252},
{"id":29,"lv":"L0","r":3.83,"lo":0.747,"hi":0.747},{"id":29,"lv":"L0","r":3.9,"lo":0.715,"hi":0.785},{"id":29,"lv":"L0","r":4.03,"lo":0.679,"hi":0.81},{"id":29,"lv":"L0","r":4.18,"lo":0.687,"hi":0.766},{"id":29,"lv":"L0","r":4.26,"lo":0.734,"hi":0.734},
{"id":30,"lv":"L0","r":2.86,"lo":1,"hi":1.005},{"id":30,"lv":"L0","r":2.9,"lo":0.95,"hi":1.005},{"id":30,"lv":"L0","r":3.04,"lo":0.911,"hi":1.005},{"id":30,"lv":"L0","r":3.18,"lo":0.981,"hi":1.005},{"id":30,"lv":"L0","r":3.2,"lo":1,"hi":1.005},
{"id":31,"lv":"L0","r":4.84,"lo":0.987,"hi":1.005},{"id":31,"lv":"L0","r":4.94,"lo":0.956,"hi":1.005},{"id":31,"lv":"L0","r":5.03,"lo":0.94,"hi":1.005},{"id":31,"lv":"L0","r":5.14,"lo":0.962,"hi":1.005},{"id":31,"lv":"L0","r":5.23,"lo":1,"hi":1.005},
{"id":32,"lv":"L0","r":5.81,"lo":0.829,"hi":0.829},{"id":32,"lv":"L0","r":5.91,"lo":0.791,"hi":0.861},{"id":32,"lv":"L0","r":6.05,"lo":0.781,"hi":0.88},{"id":32,"lv":"L0","r":6.18,"lo":0.804,"hi":0.854},{"id":32,"lv":"L0","r":6.28,"lo":0.829,"hi":0.829},
{"id":33,"lv":"L0","r":6.83,"lo":1,"hi":1.005},{"id":33,"lv":"L0","r":6.88,"lo":0.956,"hi":1.005},{"id":33,"lv":"L0","r":7,"lo":0.953,"hi":1.005},{"id":33,"lv":"L0","r":7.15,"lo":0.968,"hi":1.005},{"id":33,"lv":"L0","r":7.26,"lo":1,"hi":1.005},
{"id":34,"lv":"L0","r":6.74,"lo":0.708,"hi":0.708},{"id":34,"lv":"L0","r":6.88,"lo":0.683,"hi":0.738},{"id":34,"lv":"L0","r":7,"lo":0.67,"hi":0.753},{"id":34,"lv":"L0","r":7.2,"lo":0.683,"hi":0.72},{"id":34,"lv":"L0","r":7.41,"lo":0.692,"hi":0.692},
{"id":35,"lv":"L0","r":8.77,"lo":1,"hi":1.005},{"id":35,"lv":"L0","r":8.83,"lo":0.975,"hi":1.005},{"id":35,"lv":"L0","r":9,"lo":0.959,"hi":1.005},{"id":35,"lv":"L0","r":9.26,"lo":0.975,"hi":1.005},{"id":35,"lv":"L0","r":9.32,"lo":1,"hi":1.005},
{"id":36,"lv":"L0","r":10.68,"lo":1,"hi":1.005},{"id":36,"lv":"L0","r":10.8,"lo":0.975,"hi":1.005},{"id":36,"lv":"L0","r":11.03,"lo":0.962,"hi":1.005},{"id":36,"lv":"L0","r":11.29,"lo":0.975,"hi":1.005},{"id":36,"lv":"L0","r":11.4,"lo":1,"hi":1.005},
{"id":37,"lv":"L0","r":12.62,"lo":1,"hi":1.005},{"id":37,"lv":"L0","r":12.74,"lo":0.971,"hi":1.005},{"id":37,"lv":"L0","r":13.05,"lo":0.962,"hi":1.005},{"id":37,"lv":"L0","r":13.39,"lo":0.968,"hi":1.005},{"id":37,"lv":"L0","r":13.48,"lo":1,"hi":1.005},
{"id":38,"lv":"L0","r":7.77,"lo":0.873,"hi":0.873},{"id":38,"lv":"L0","r":7.89,"lo":0.848,"hi":0.905},{"id":38,"lv":"L0","r":8.03,"lo":0.829,"hi":0.914},{"id":38,"lv":"L0","r":8.22,"lo":0.848,"hi":0.899},{"id":38,"lv":"L0","r":8.33,"lo":0.873,"hi":0.873},
{"id":39,"lv":"L0","r":9.71,"lo":0.905,"hi":0.905},{"id":39,"lv":"L0","r":9.88,"lo":0.88,"hi":0.928},{"id":39,"lv":"L0","r":10.06,"lo":0.861,"hi":0.933},{"id":39,"lv":"L0","r":10.28,"lo":0.877,"hi":0.924},{"id":39,"lv":"L0","r":10.41,"lo":0.892,"hi":0.892},
{"id":40,"lv":"L0","r":11.65,"lo":0.911,"hi":0.911},{"id":40,"lv":"L0","r":11.77,"lo":0.88,"hi":0.94},{"id":40,"lv":"L0","r":12.05,"lo":0.873,"hi":0.949},{"id":40,"lv":"L0","r":12.33,"lo":0.87,"hi":0.924},{"id":40,"lv":"L0","r":12.51,"lo":0.861,"hi":0.886},{"id":40,"lv":"L0","r":13.17,"lo":0.816,"hi":0.861},{"id":40,"lv":"L0","r":14,"lo":0.787,"hi":0.823},
{"id":41,"lv":"L0","r":13.55,"lo":0.933,"hi":0.933},{"id":41,"lv":"L0","r":13.62,"lo":0.905,"hi":0.945},{"id":41,"lv":"L0","r":14,"lo":0.896,"hi":0.956},
{"id":42,"lv":"L0","r":10.65,"lo":0.829,"hi":0.829},{"id":42,"lv":"L0","r":10.76,"lo":0.804,"hi":0.844},{"id":42,"lv":"L0","r":10.94,"lo":0.778,"hi":0.851},{"id":42,"lv":"L0","r":11.31,"lo":0.75,"hi":0.81},{"id":42,"lv":"L0","r":11.68,"lo":0.73,"hi":0.791},{"id":42,"lv":"L0","r":12.05,"lo":0.702,"hi":0.766},{"id":42,"lv":"L0","r":12.61,"lo":0.683,"hi":0.747},{"id":42,"lv":"L0","r":14,"lo":0.613,"hi":0.683},
{"id":43,"lv":"L0","r":8.7,"lo":0.785,"hi":0.785},{"id":43,"lv":"L0","r":8.82,"lo":0.759,"hi":0.804},{"id":43,"lv":"L0","r":9,"lo":0.738,"hi":0.814},{"id":43,"lv":"L0","r":9.3,"lo":0.708,"hi":0.778},{"id":43,"lv":"L0","r":9.56,"lo":0.683,"hi":0.738},{"id":43,"lv":"L0","r":10.29,"lo":0.645,"hi":0.708},{"id":43,"lv":"L0","r":11.03,"lo":0.613,"hi":0.664},{"id":43,"lv":"L0","r":12.05,"lo":0.563,"hi":0.626},{"id":43,"lv":"L0","r":12.88,"lo":0.525,"hi":0.582},{"id":43,"lv":"L0","r":14,"lo":0.474,"hi":0.544},
{"id":44,"lv":"L0","r":7.38,"lo":0.658,"hi":0.658},{"id":44,"lv":"L0","r":7.52,"lo":0.645,"hi":0.664},{"id":44,"lv":"L0","r":7.75,"lo":0.601,"hi":0.664},{"id":44,"lv":"L0","r":7.98,"lo":0.582,"hi":0.664},{"id":44,"lv":"L0","r":8.49,"lo":0.556,"hi":0.607},{"id":44,"lv":"L0","r":9,"lo":0.518,"hi":0.575},{"id":44,"lv":"L0","r":9.65,"lo":0.48,"hi":0.54},{"id":44,"lv":"L0","r":10,"lo":0.449,"hi":0.531},{"id":44,"lv":"L0","r":11.03,"lo":0.411,"hi":0.487},{"id":44,"lv":"L0","r":12,"lo":0.385,"hi":0.455},{"id":44,"lv":"L0","r":12.79,"lo":0.36,"hi":0.423},{"id":44,"lv":"L0","r":14,"lo":0.322,"hi":0.398},
{"id":45,"lv":"L3","r":0,"lo":0,"hi":1.005},{"id":45,"lv":"L3","r":0.3,"lo":0,"hi":1.005},{"id":45,"lv":"L3","r":0.33,"lo":0,"hi":0.829},{"id":45,"lv":"L3","r":0.45,"lo":0,"hi":0.702},{"id":45,"lv":"L3","r":0.59,"lo":0,"hi":0.651},{"id":45,"lv":"L3","r":1.04,"lo":0,"hi":0.575},{"id":45,"lv":"L3","r":1.19,"lo":0,"hi":0.474},{"id":45,"lv":"L3","r":1.38,"lo":0,"hi":0.385},{"id":45,"lv":"L3","r":1.7,"lo":0,"hi":0.297},{"id":45,"lv":"L3","r":2.26,"lo":0,"hi":0.233},{"id":45,"lv":"L3","r":3,"lo":0,"hi":0.176},{"id":45,"lv":"L3","r":4,"lo":0,"hi":0.125},{"id":45,"lv":"L3","r":5.01,"lo":0,"hi":0.094},{"id":45,"lv":"L3","r":6,"lo":0,"hi":0.068},{"id":45,"lv":"L3","r":7.15,"lo":0,"hi":0.043},{"id":45,"lv":"L3","r":8,"lo":0,"hi":0.03},{"id":45,"lv":"L3","r":10,"lo":0,"hi":0.011},{"id":45,"lv":"L3","r":11.5,"lo":0,"hi":0},
{"id":46,"lv":"L3","r":1.47,"lo":1,"hi":1.005},{"id":46,"lv":"L3","r":1.52,"lo":0.867,"hi":1.005},{"id":46,"lv":"L3","r":1.75,"lo":0.753,"hi":1.005},{"id":46,"lv":"L3","r":2.12,"lo":0.689,"hi":1.005},{"id":46,"lv":"L3","r":2.35,"lo":0.626,"hi":1.005},{"id":46,"lv":"L3","r":2.44,"lo":0.601,"hi":1.005},{"id":46,"lv":"L3","r":2.58,"lo":0.569,"hi":0.905},{"id":46,"lv":"L3","r":2.76,"lo":0.544,"hi":0.842},{"id":46,"lv":"L3","r":3.04,"lo":0.506,"hi":0.81},{"id":46,"lv":"L3","r":3.36,"lo":0.461,"hi":0.753},{"id":46,"lv":"L3","r":3.55,"lo":0.442,"hi":0.677},{"id":46,"lv":"L3","r":3.73,"lo":0.423,"hi":0.607},{"id":46,"lv":"L3","r":4.01,"lo":0.395,"hi":0.544},{"id":46,"lv":"L3","r":4.29,"lo":0.373,"hi":0.512},{"id":46,"lv":"L3","r":4.66,"lo":0.354,"hi":0.449},{"id":46,"lv":"L3","r":5.12,"lo":0.328,"hi":0.423},{"id":46,"lv":"L3","r":5.58,"lo":0.309,"hi":0.392},{"id":46,"lv":"L3","r":6.05,"lo":0.29,"hi":0.37},{"id":46,"lv":"L3","r":7,"lo":0.243,"hi":0.347},{"id":46,"lv":"L3","r":8,"lo":0.223,"hi":0.309},{"id":46,"lv":"L3","r":8.72,"lo":0.208,"hi":0.271},{"id":46,"lv":"L3","r":10,"lo":0.198,"hi":0.201},
{"id":47,"lv":"L3","r":3.6,"lo":1,"hi":1.005},{"id":47,"lv":"L3","r":3.64,"lo":0.943,"hi":1.005},{"id":47,"lv":"L3","r":3.83,"lo":0.911,"hi":1.005},{"id":47,"lv":"L3","r":4.01,"lo":0.892,"hi":1.005},{"id":47,"lv":"L3","r":4.47,"lo":0.829,"hi":1.005},{"id":47,"lv":"L3","r":4.52,"lo":0.803,"hi":0.93},{"id":47,"lv":"L3","r":4.7,"lo":0.715,"hi":0.915},{"id":47,"lv":"L3","r":5.07,"lo":0.679,"hi":0.892},{"id":47,"lv":"L3","r":5.4,"lo":0.626,"hi":0.867},{"id":47,"lv":"L3","r":5.58,"lo":0.588,"hi":0.791},{"id":47,"lv":"L3","r":5.77,"lo":0.569,"hi":0.728},{"id":47,"lv":"L3","r":6.14,"lo":0.548,"hi":0.696},{"id":47,"lv":"L3","r":6.6,"lo":0.527,"hi":0.651},{"id":47,"lv":"L3","r":7,"lo":0.516,"hi":0.623},{"id":47,"lv":"L3","r":7.43,"lo":0.493,"hi":0.575},{"id":47,"lv":"L3","r":7.98,"lo":0.474,"hi":0.537},{"id":47,"lv":"L3","r":8.54,"lo":0.449,"hi":0.48},{"id":47,"lv":"L3","r":8.82,"lo":0.43,"hi":0.468},{"id":47,"lv":"L3","r":9.26,"lo":0.421,"hi":0.43},
{"id":48,"lv":"L3","r":5.67,"lo":1,"hi":1.005},{"id":48,"lv":"L3","r":5.72,"lo":0.962,"hi":1.005},{"id":48,"lv":"L3","r":6,"lo":0.933,"hi":1.005},{"id":48,"lv":"L3","r":6.28,"lo":0.962,"hi":1.005},{"id":48,"lv":"L3","r":6.34,"lo":1,"hi":1.005},
{"id":49,"lv":"L3","r":6.71,"lo":0.854,"hi":0.854},{"id":49,"lv":"L3","r":6.83,"lo":0.823,"hi":0.886},{"id":49,"lv":"L3","r":7,"lo":0.804,"hi":0.902},{"id":49,"lv":"L3","r":7.15,"lo":0.81,"hi":0.892},{"id":49,"lv":"L3","r":7.32,"lo":0.854,"hi":0.854},
{"id":50,"lv":"L3","r":7.77,"lo":0.75,"hi":0.75},{"id":50,"lv":"L3","r":8,"lo":0.711,"hi":0.782},{"id":50,"lv":"L3","r":8.24,"lo":0.75,"hi":0.75},
{"id":51,"lv":"L3","r":8.86,"lo":0.67,"hi":0.67},{"id":51,"lv":"L3","r":9,"lo":0.641,"hi":0.687},{"id":51,"lv":"L3","r":9.16,"lo":0.66,"hi":0.66},
{"id":52,"lv":"L3","r":7.83,"lo":1,"hi":1.005},{"id":52,"lv":"L3","r":7.9,"lo":0.975,"hi":1.005},{"id":52,"lv":"L3","r":8,"lo":0.962,"hi":1.005},{"id":52,"lv":"L3","r":8.15,"lo":0.975,"hi":1.005},{"id":52,"lv":"L3","r":8.2,"lo":1,"hi":1.005},
{"id":53,"lv":"L3","r":8.91,"lo":0.88,"hi":0.88},{"id":53,"lv":"L3","r":9,"lo":0.863,"hi":0.909},{"id":53,"lv":"L3","r":9.12,"lo":0.885,"hi":0.885},
{"id":54,"lv":"L4","r":0,"lo":0,"hi":0.506},{"id":54,"lv":"L4","r":0.13,"lo":0,"hi":0.51},{"id":54,"lv":"L4","r":0.36,"lo":0,"hi":0.493},{"id":54,"lv":"L4","r":1.04,"lo":0,"hi":0.477},{"id":54,"lv":"L4","r":1.28,"lo":0,"hi":0.36},{"id":54,"lv":"L4","r":1.52,"lo":0,"hi":0.271},{"id":54,"lv":"L4","r":1.98,"lo":0,"hi":0.195},{"id":54,"lv":"L4","r":2.53,"lo":0,"hi":0.144},{"id":54,"lv":"L4","r":3.36,"lo":0,"hi":0.094},{"id":54,"lv":"L4","r":4.01,"lo":0,"hi":0.075},{"id":54,"lv":"L4","r":5.01,"lo":0,"hi":0.041},{"id":54,"lv":"L4","r":6,"lo":0,"hi":0.018},{"id":54,"lv":"L4","r":7,"lo":0,"hi":0.011},{"id":54,"lv":"L4","r":7.4,"lo":0,"hi":0},
{"id":55,"lv":"L4","r":1.63,"lo":1,"hi":1.005},{"id":55,"lv":"L4","r":1.75,"lo":0.88,"hi":1.005},{"id":55,"lv":"L4","r":1.89,"lo":0.81,"hi":1.005},{"id":55,"lv":"L4","r":2.02,"lo":0.772,"hi":1.005},{"id":55,"lv":"L4","r":2.26,"lo":0.696,"hi":1.005},{"id":55,"lv":"L4","r":2.44,"lo":0.639,"hi":1.005},{"id":55,"lv":"L4","r":2.53,"lo":0.613,"hi":0.892},{"id":55,"lv":"L4","r":2.76,"lo":0.582,"hi":0.766},{"id":55,"lv":"L4","r":2.99,"lo":0.55,"hi":0.759},{"id":55,"lv":"L4","r":3.27,"lo":0.512,"hi":0.651},{"id":55,"lv":"L4","r":3.55,"lo":0.48,"hi":0.575},{"id":55,"lv":"L4","r":4.01,"lo":0.404,"hi":0.548},{"id":55,"lv":"L4","r":4.29,"lo":0.392,"hi":0.487},{"id":55,"lv":"L4","r":4.66,"lo":0.373,"hi":0.423},{"id":55,"lv":"L4","r":5.58,"lo":0.328,"hi":0.373},{"id":55,"lv":"L4","r":6.05,"lo":0.294,"hi":0.347},{"id":55,"lv":"L4","r":6.74,"lo":0.3,"hi":0.3},
{"id":56,"lv":"L4","r":6.77,"lo":0.284,"hi":0.284},{"id":56,"lv":"L4","r":6.97,"lo":0.268,"hi":0.299},{"id":56,"lv":"L4","r":7.13,"lo":0.284,"hi":0.284},
{"id":57,"lv":"L4","r":3.73,"lo":1,"hi":1.005},{"id":57,"lv":"L4","r":3.78,"lo":0.956,"hi":1.005},{"id":57,"lv":"L4","r":4.01,"lo":0.911,"hi":1.005},{"id":57,"lv":"L4","r":4.27,"lo":0.956,"hi":1.005},{"id":57,"lv":"L4","r":4.29,"lo":1,"hi":1.005},
{"id":58,"lv":"L4","r":4.77,"lo":0.797,"hi":0.797},{"id":58,"lv":"L4","r":4.89,"lo":0.753,"hi":0.835},{"id":58,"lv":"L4","r":5.03,"lo":0.738,"hi":0.854},{"id":58,"lv":"L4","r":5.24,"lo":0.791,"hi":0.791},
{"id":59,"lv":"L4","r":5.84,"lo":0.67,"hi":0.67},{"id":59,"lv":"L4","r":6,"lo":0.629,"hi":0.702},{"id":59,"lv":"L4","r":6.18,"lo":0.664,"hi":0.664},
{"id":60,"lv":"L4","r":6.97,"lo":0.569,"hi":0.569},{"id":60,"lv":"L4","r":7.01,"lo":0.55,"hi":0.588},{"id":60,"lv":"L4","r":7.06,"lo":0.569,"hi":0.569},
{"id":61,"lv":"L4","r":5.88,"lo":1,"hi":1.005},{"id":61,"lv":"L4","r":6,"lo":0.962,"hi":1.005},{"id":61,"lv":"L4","r":6.14,"lo":1,"hi":1.005},
{"id":62,"lv":"L4","r":6.97,"lo":0.854,"hi":0.854},{"id":62,"lv":"L4","r":7.01,"lo":0.835,"hi":0.873},{"id":62,"lv":"L4","r":7.06,"lo":0.854,"hi":0.854},
{"id":63,"lv":"L5","r":0.27,"lo":0,"hi":0},{"id":63,"lv":"L5","r":0.3,"lo":0,"hi":0.094},{"id":63,"lv":"L5","r":0.36,"lo":0,"hi":0.17},{"id":63,"lv":"L5","r":0.45,"lo":0,"hi":0.258},{"id":63,"lv":"L5","r":0.68,"lo":0,"hi":0.347},{"id":63,"lv":"L5","r":1,"lo":0,"hi":0.389},{"id":63,"lv":"L5","r":1.28,"lo":0,"hi":0.297},{"id":63,"lv":"L5","r":1.56,"lo":0,"hi":0.208},{"id":63,"lv":"L5","r":2.07,"lo":0,"hi":0.132},{"id":63,"lv":"L5","r":2.81,"lo":0,"hi":0.075},{"id":63,"lv":"L5","r":4.01,"lo":0,"hi":0.03},{"id":63,"lv":"L5","r":5.01,"lo":0,"hi":0},
{"id":64,"lv":"L5","r":1.75,"lo":1,"hi":1.005},{"id":64,"lv":"L5","r":1.84,"lo":0.93,"hi":1.005},{"id":64,"lv":"L5","r":2.02,"lo":0.829,"hi":1.005},{"id":64,"lv":"L5","r":2.16,"lo":0.905,"hi":1.005},{"id":64,"lv":"L5","r":2.28,"lo":1,"hi":1.005},
{"id":65,"lv":"L5","r":2.74,"lo":0.683,"hi":0.683},{"id":65,"lv":"L5","r":2.86,"lo":0.626,"hi":0.721},{"id":65,"lv":"L5","r":2.99,"lo":0.569,"hi":0.759},{"id":65,"lv":"L5","r":3.23,"lo":0.582,"hi":0.67},{"id":65,"lv":"L5","r":3.32,"lo":0.594,"hi":0.594},
{"id":66,"lv":"L5","r":3.75,"lo":0.525,"hi":0.525},{"id":66,"lv":"L5","r":3.87,"lo":0.48,"hi":0.537},{"id":66,"lv":"L5","r":4.01,"lo":0.449,"hi":0.548},{"id":66,"lv":"L5","r":4.24,"lo":0.474,"hi":0.474},
{"id":67,"lv":"L5","r":3.9,"lo":1,"hi":1.005},{"id":67,"lv":"L5","r":4.01,"lo":0.949,"hi":1.005},{"id":67,"lv":"L5","r":4.12,"lo":1,"hi":1.005},
{"id":68,"lv":"L6","r":0.56,"lo":0,"hi":0},{"id":68,"lv":"L6","r":0.59,"lo":0,"hi":0.068},{"id":68,"lv":"L6","r":0.64,"lo":0,"hi":0.132},{"id":68,"lv":"L6","r":0.82,"lo":0,"hi":0.233},{"id":68,"lv":"L6","r":1,"lo":0,"hi":0.294},{"id":68,"lv":"L6","r":1.19,"lo":0,"hi":0.233},{"id":68,"lv":"L6","r":1.42,"lo":0,"hi":0.17},{"id":68,"lv":"L6","r":1.98,"lo":0,"hi":0.094},{"id":68,"lv":"L6","r":2.72,"lo":0,"hi":0.037},{"id":68,"lv":"L6","r":3.27,"lo":0,"hi":0},
{"id":69,"lv":"L6","r":1.89,"lo":1,"hi":1.005},{"id":69,"lv":"L6","r":1.93,"lo":0.956,"hi":1.005},{"id":69,"lv":"L6","r":2,"lo":0.889,"hi":1.005},{"id":69,"lv":"L6","r":2.09,"lo":0.943,"hi":1.005},{"id":69,"lv":"L6","r":2.14,"lo":1,"hi":1.005},
{"id":70,"lv":"L6","r":2.98,"lo":0.671,"hi":0.671},{"id":70,"lv":"L6","r":3.01,"lo":0.632,"hi":0.705},{"id":70,"lv":"L6","r":3.05,"lo":0.671,"hi":0.671},
{"id":71,"lv":"L7","r":0.87,"lo":0,"hi":0},{"id":71,"lv":"L7","r":0.91,"lo":0,"hi":0.094},{"id":71,"lv":"L7","r":1,"lo":0,"hi":0.167},{"id":71,"lv":"L7","r":1.28,"lo":0,"hi":0.1},{"id":71,"lv":"L7","r":1.75,"lo":0,"hi":0.018},{"id":71,"lv":"L7","r":1.77,"lo":0,"hi":0}
]},
"concat":[
{"width":505,"height":526,"data":{"name":"a"},"view":{"fill":"#f7f7f7","stroke":null},"title":{"text":"(a)","anchor":"start","frame":"group","dx":-110,"offset":-14,"fontSize":52,"fontWeight":"normal","font":"Liberation Serif","color":"#000"},
"resolve":{"scale":{"y":"independent","color":"independent"},"axis":{"x":"independent","y":"independent"}},
"layer":[
{"mark":{"type":"area","clip":true},"encoding":{"x":{"field":"r","type":"quantitative","scale":{"domain":[0,14],"nice":false},"axis":{"orient":"bottom","values":[0,1,2,3,4,5,6,7,8,9,10,11,12,13,14],"tickSize":{"condition":{"test":"datum.value%5==0","value":-7},"value":-4},"labelExpr":"datum.value%5==0?datum.value:''","labelPadding":13,"title":"(rᵢ − rⱼ)/a","titleFontStyle":"italic","titlePadding":1}},"y":{"field":"lo","type":"quantitative","scale":{"domain":[0,2],"nice":false},"axis":{"orient":"left","values":[0,0.1,0.2,0.3,0.4,0.5,0.6,0.7,0.8,0.9,1,1.1,1.2,1.3,1.4,1.5,1.6,1.7,1.8,1.9,2],"tickSize":{"condition":{"test":"round(datum.value*10)%5==0","value":-7},"value":-4},"labelExpr":"round(datum.value*10)%5==0?format(datum.value,'.1f'):''","labelPadding":12,"title":"Δk · a/π","titleFontStyle":"italic","titlePadding":3}},"y2":{"field":"hi"},"color":{"field":"lv","type":"nominal","scale":{"domain":["n4","n3","n2","n1","z","p1","p2","p3","p4"],"range":["#67001f","#b92732","#e68268","#fccdb6","#f7f7f7","#c1dcec","#6eaace","#2c70b1","#053061"]},"legend":null},"detail":{"field":"id"}}},
{"mark":{"type":"area","clip":true},"encoding":{"x":{"field":"r","type":"quantitative","scale":{"domain":[0,14],"nice":false},"axis":{"orient":"top","values":[0,1,2,3,4,5,6,7,8,9,10,11,12,13,14],"tickSize":{"condition":{"test":"datum.value%5==0","value":-7},"value":-4},"labels":false,"title":null}},"y":{"field":"lo","type":"quantitative","scale":{"domain":[0,2],"nice":false,"reverse":true},"axis":{"orient":"right","values":[0,0.1,0.2,0.3,0.4,0.5,0.6,0.7,0.8,0.9,1,1.1,1.2,1.3,1.4,1.5,1.6,1.7,1.8,1.9,2],"tickSize":{"condition":{"test":"round(datum.value*10)%5==0","value":-7},"value":-4},"labels":false,"title":null}},"y2":{"field":"hi"},"color":{"field":"lv","type":"nominal","scale":{"domain":["p4","p3","p2","p1","z","n1","n2","n3","n4"],"range":["#67001f","#b92732","#e68268","#fccdb6","#f7f7f7","#c1dcec","#6eaace","#2c70b1","#053061"]},"legend":null},"detail":{"field":"id"}}}
]},
{"width":24,"height":526,"data":{"name":"ca"},"view":{"stroke":"#222","strokeWidth":1.6},"mark":{"type":"rect"},"encoding":{"y":{"field":"lo","type":"quantitative","scale":{"domain":[-0.5,0.5],"nice":false},"axis":{"orient":"right","values":[-0.5,-0.45,-0.4,-0.35,-0.3,-0.25,-0.2,-0.15,-0.1,-0.05,0,0.05,0.1,0.15,0.2,0.25,0.3,0.35,0.4,0.45,0.5],"tickSize":{"condition":{"test":"round(datum.value*100)%20==0","value":-7},"value":-4},"labelExpr":"round(datum.value*100)%20==0?format(datum.value,'.1f'):''","labelPadding":12,"title":"Jᵢⱼ / Γ","titleFontStyle":"italic","titleAngle":-90,"titlePadding":58}},"y2":{"field":"hi"},"color":{"field":"lv","type":"nominal","scale":{"domain":["n4","n3","n2","n1","z","p1","p2","p3","p4"],"range":["#67001f","#b92732","#e68268","#fccdb6","#f7f7f7","#c1dcec","#6eaace","#2c70b1","#053061"]},"legend":null}}},
{"width":505,"height":526,"data":{"name":"b"},"view":{"fill":"#d1e2f2","stroke":null},"title":{"text":"(b)","anchor":"start","frame":"group","dx":-110,"offset":-6,"fontSize":52,"fontWeight":"normal","font":"Liberation Serif","color":"#000"},
"resolve":{"scale":{"y":"independent","color":"independent"},"axis":{"x":"independent","y":"independent"}},
"layer":[
{"mark":{"type":"area","clip":true},"encoding":{"x":{"field":"r","type":"quantitative","scale":{"domain":[0,14],"nice":false},"axis":{"orient":"bottom","values":[0,1,2,3,4,5,6,7,8,9,10,11,12,13,14],"tickSize":{"condition":{"test":"datum.value%5==0","value":-7},"value":-4},"labelExpr":"datum.value%5==0?datum.value:''","labelPadding":13,"title":"(rᵢ − rⱼ)/a","titleFontStyle":"italic","titlePadding":1}},"y":{"field":"lo","type":"quantitative","scale":{"domain":[0,2],"nice":false},"axis":{"orient":"left","values":[0,0.1,0.2,0.3,0.4,0.5,0.6,0.7,0.8,0.9,1,1.1,1.2,1.3,1.4,1.5,1.6,1.7,1.8,1.9,2],"tickSize":{"condition":{"test":"round(datum.value*10)%5==0","value":-7},"value":-4},"labelExpr":"round(datum.value*10)%5==0?format(datum.value,'.1f'):''","labelPadding":12,"title":"Δk · a/π","titleFontStyle":"italic","titlePadding":3}},"y2":{"field":"hi"},"color":{"field":"lv","type":"nominal","scale":{"domain":["L0","L1","L2","L3","L4","L5","L6","L7"],"range":["#e8f1fa","#d1e2f2","#b0d2e8","#85bcdc","#5ba3d0","#3787c0","#1764ab","#084a91"]},"legend":null},"detail":{"field":"id"}}},
{"mark":{"type":"area","clip":true},"encoding":{"x":{"field":"r","type":"quantitative","scale":{"domain":[0,14],"nice":false},"axis":{"orient":"top","values":[0,1,2,3,4,5,6,7,8,9,10,11,12,13,14],"tickSize":{"condition":{"test":"datum.value%5==0","value":-7},"value":-4},"labels":false,"title":null}},"y":{"field":"lo","type":"quantitative","scale":{"domain":[0,2],"nice":false,"reverse":true},"axis":{"orient":"right","values":[0,0.1,0.2,0.3,0.4,0.5,0.6,0.7,0.8,0.9,1,1.1,1.2,1.3,1.4,1.5,1.6,1.7,1.8,1.9,2],"tickSize":{"condition":{"test":"round(datum.value*10)%5==0","value":-7},"value":-4},"labels":false,"title":null}},"y2":{"field":"hi"},"color":{"field":"lv","type":"nominal","scale":{"domain":["L0","L1","L2","L3","L4","L5","L6","L7"],"range":["#e8f1fa","#d1e2f2","#b0d2e8","#85bcdc","#5ba3d0","#3787c0","#1764ab","#084a91"]},"legend":null},"detail":{"field":"id"}}}
]},
{"width":24,"height":526,"data":{"name":"cb"},"view":{"stroke":"#222","strokeWidth":1.6},"mark":{"type":"rect"},"encoding":{"y":{"field":"lo","type":"quantitative","scale":{"domain":[0,0.48],"nice":false},"axis":{"orient":"right","values":[0,0.015,0.03,0.045,0.06,0.075,0.09,0.105,0.12,0.135,0.15,0.165,0.18,0.195,0.21,0.225,0.24,0.255,0.27,0.285,0.3,0.315,0.33,0.345,0.36,0.375,0.39,0.405,0.42,0.435,0.45,0.465,0.48],"tickSize":{"condition":{"test":"round(datum.value*1000)%60==0","value":-7},"value":-4},"labelExpr":"round(datum.value*1000)%60==0?format(datum.value,'.2f'):''","labelPadding":12,"title":"Γᵢⱼ / Γ","titleFontStyle":"italic","titleAngle":-90,"titlePadding":58}},"y2":{"field":"hi"},"color":{"field":"lv","type":"nominal","scale":{"domain":["L0","L1","L2","L3","L4","L5","L6","L7"],"range":["#e8f1fa","#d1e2f2","#b0d2e8","#85bcdc","#5ba3d0","#3787c0","#1764ab","#084a91"]},"legend":null}}}
]}
